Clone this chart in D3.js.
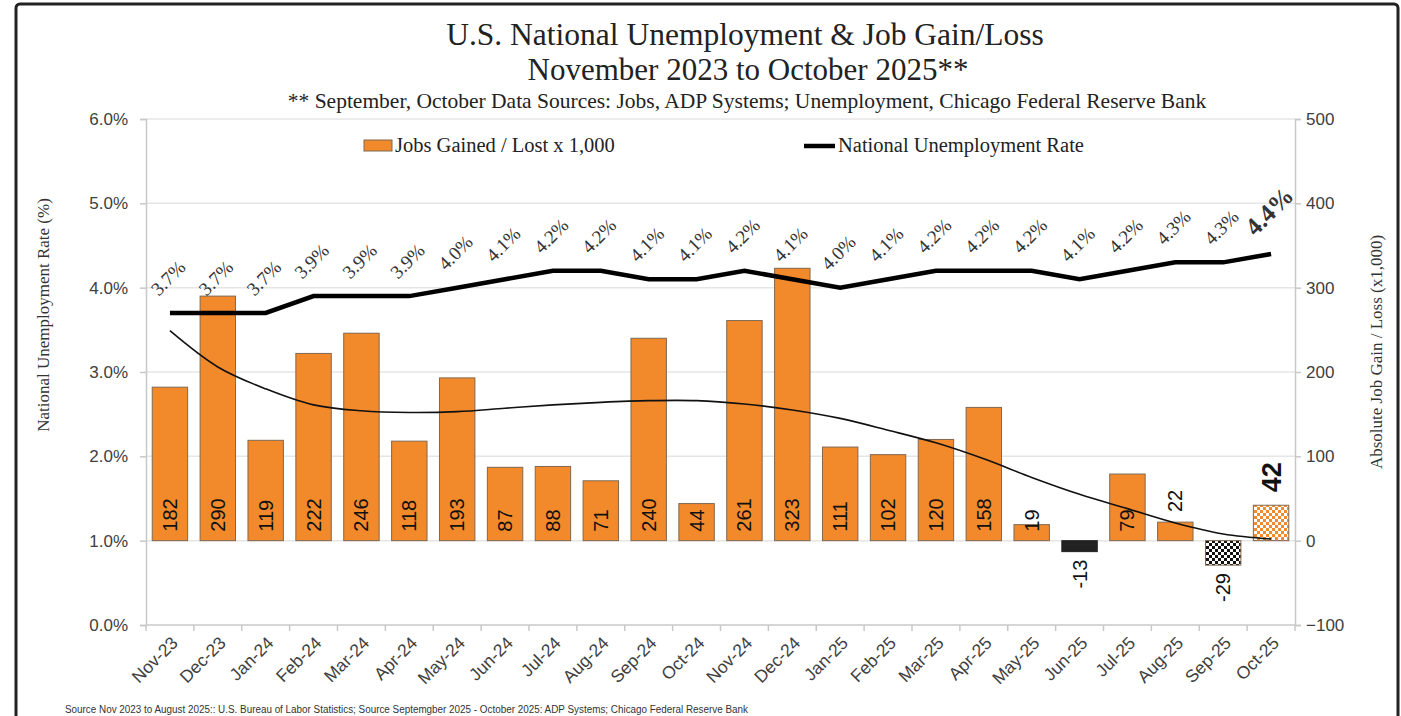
<!DOCTYPE html>
<html>
<head>
<meta charset="utf-8">
<title>U.S. National Unemployment & Job Gain/Loss</title>
<script src="https://cdn.jsdelivr.net/npm/d3@7"></script>
<style>
  body { margin: 0; background: #fff; }
  svg { display: block; }
  .serif { font-family: "Liberation Serif", "DejaVu Serif", serif; }
  .sans { font-family: "Liberation Sans", Arial, sans-serif; }
</style>
</head>
<body>
<div id="chart"></div>
<script>
// months on the x axis
var months = ["Nov-23","Dec-23","Jan-24","Feb-24","Mar-24","Apr-24","May-24","Jun-24","Jul-24","Aug-24","Sep-24","Oct-24",
              "Nov-24","Dec-24","Jan-25","Feb-25","Mar-25","Apr-25","May-25","Jun-25","Jul-25","Aug-25","Sep-25","Oct-25"];
// jobs gained / lost (thousands)
var jobs = [182,290,119,222,246,118,193,87,88,71,240,44,261,323,111,102,120,158,19,-13,79,22,-29,42];
// national unemployment rate (%)
var rate = [3.7,3.7,3.7,3.9,3.9,3.9,4.0,4.1,4.2,4.2,4.1,4.1,4.2,4.1,4.0,4.1,4.2,4.2,4.2,4.1,4.2,4.3,4.3,4.4];
// trendline of job numbers (thousands)
var trend = [249,206,180,161,154,152,153,157,161,164,166,166,162,155,145,131,116,97,75,55,38,21,8,2];
// axis ticks
var rateTicks = [0,1,2,3,4,5,6];
var jobTicks = [-100,0,100,200,300,400,500];

var W = 1401, H = 716;
var pLeft = 146, pRight = 1295, pTop = 119, pBottom = 625;

var svg = d3.select("#chart").append("svg").attr("width", W).attr("height", H);

// patterns for the last months
var defs = svg.append("defs");
var pb = defs.append("pattern").attr("id","checkBlack").attr("patternUnits","userSpaceOnUse")
  .attr("width",6).attr("height",6);
pb.append("rect").attr("width",6).attr("height",6).attr("fill","#fff");
pb.append("rect").attr("width",3).attr("height",3).attr("fill","#111");
pb.append("rect").attr("x",3).attr("y",3).attr("width",3).attr("height",3).attr("fill","#111");
var po = defs.append("pattern").attr("id","checkOrange").attr("patternUnits","userSpaceOnUse")
  .attr("width",6).attr("height",6);
po.append("rect").attr("width",6).attr("height",6).attr("fill","#fff");
po.append("rect").attr("width",3).attr("height",3).attr("fill","#F2892B");
po.append("rect").attr("x",3).attr("y",3).attr("width",3).attr("height",3).attr("fill","#F2892B");

// frame
svg.append("rect").attr("x",16).attr("y",4).attr("width",1382).attr("height",740)
  .attr("rx",4).attr("fill","#fff").attr("stroke","#222").attr("stroke-width",3);

// scales
var x = d3.scaleBand().domain(months).range([pLeft, pRight]).paddingInner(0.26).paddingOuter(0.13);
var yL = d3.scaleLinear().domain([0, 6]).range([pBottom, pTop]);
var yR = d3.scaleLinear().domain([-100, 500]).range([pBottom, pTop]);
var step = x.step();
function cx(m) { return x(m) + x.bandwidth() / 2; }

// gridlines
svg.append("g").selectAll("line").data(rateTicks.slice(1)).enter().append("line")
  .attr("x1", pLeft).attr("x2", pRight)
  .attr("y1", function(d){ return yL(d); }).attr("y2", function(d){ return yL(d); })
  .attr("stroke", "#e6e6e6").attr("stroke-width", 1.5);

// left axis
var axL = svg.append("g").attr("transform","translate(" + pLeft + ",0)")
  .call(d3.axisLeft(yL).tickValues(rateTicks).tickSize(6).tickPadding(12)
    .tickFormat(function(d){ return d3.format(".1f")(d) + "%"; }));
// right axis
var axR = svg.append("g").attr("transform","translate(" + pRight + ",0)")
  .call(d3.axisRight(yR).tickValues(jobTicks).tickSize(6).tickPadding(5));
[axL, axR].forEach(function(a){
  a.select(".domain").attr("stroke","#c8c8c8").attr("stroke-width",1.5);
  a.selectAll(".tick line").attr("stroke","#c8c8c8").attr("stroke-width",1.5);
  a.selectAll(".tick text").attr("class","sans").attr("font-size",17).attr("fill","#404040");
});

// bottom axis with ticks between categories
var axB = svg.append("g").attr("transform","translate(0," + pBottom + ")");
axB.append("line").attr("x1", pLeft).attr("x2", pRight).attr("stroke","#c8c8c8").attr("stroke-width",1.5);
axB.selectAll("line.tk").data(d3.range(months.length + 1)).enter().append("line").attr("class","tk")
  .attr("x1", function(i){ return pLeft + i * step; }).attr("x2", function(i){ return pLeft + i * step; })
  .attr("y1", 0).attr("y2", 6).attr("stroke","#c8c8c8").attr("stroke-width",1.5);
axB.selectAll("text").data(months).enter().append("text")
  .attr("class","sans").attr("font-size",17.5).attr("fill","#404040")
  .attr("text-anchor","end")
  .attr("transform", function(m){ return "translate(" + (cx(m) + 9) + ",19) rotate(-45)"; })
  .text(function(m){ return m; });

// bars
var special = { "Jun-25": "#222", "Sep-25": "url(#checkBlack)", "Oct-25": "url(#checkOrange)" };
var barData = months.map(function(m, i){ return { m: m, v: jobs[i] }; });
svg.append("g").selectAll("rect").data(barData).enter().append("rect")
  .attr("x", function(d){ return x(d.m); })
  .attr("width", x.bandwidth())
  .attr("y", function(d){ return yR(Math.max(0, d.v)); })
  .attr("height", function(d){ return Math.abs(yR(d.v) - yR(0)); })
  .attr("fill", function(d){ return special[d.m] || "#F2892B"; })
  .attr("stroke", function(d){ return d.m === "Jun-25" ? "#222" : "#806850"; })
  .attr("stroke-width", 1);

// bar labels
var above = { "Aug-25": 10, "Oct-25": 13 };
svg.append("g").selectAll("text").data(barData).enter().append("text")
  .attr("class","sans")
  .attr("font-size", function(d){ return d.m === "Oct-25" ? 27 : 20; })
  .attr("font-weight", function(d){ return d.m === "Oct-25" ? "bold" : "normal"; })
  .attr("fill","#111")
  .attr("dy","0.35em")
  .attr("text-anchor", function(d){ return d.v < 0 ? "end" : "start"; })
  .attr("transform", function(d){
    var yy;
    if (d.v < 0) yy = yR(d.v) + 8;
    else if (above[d.m] !== undefined) yy = yR(d.v) - above[d.m];
    else yy = yR(0) - 9;
    return "translate(" + cx(d.m) + "," + yy + ") rotate(-90)";
  })
  .text(function(d){ return d.v; });

// trendline
var trendLine = d3.line().curve(d3.curveCatmullRom)
  .x(function(d, i){ return cx(months[i]); })
  .y(function(d){ return yR(d); });
svg.append("path").attr("d", trendLine(trend)).attr("fill","none")
  .attr("stroke","#111").attr("stroke-width",1.6);

// unemployment line
var rateLine = d3.line()
  .x(function(d, i){ return cx(months[i]); })
  .y(function(d){ return yL(d); });
svg.append("path").attr("d", rateLine(rate)).attr("fill","none")
  .attr("stroke","#000").attr("stroke-width",4.5).attr("stroke-linejoin","miter");

// rate labels
svg.append("g").selectAll("text").data(rate).enter().append("text")
  .attr("class","serif")
  .attr("font-size", function(d, i){ return i === rate.length - 1 ? 25 : 19; })
  .attr("font-weight", function(d, i){ return i === rate.length - 1 ? "bold" : "normal"; })
  .attr("fill","#333")
  .attr("text-anchor","middle").attr("dy","0.35em")
  .attr("transform", function(d, i){
    var off = i === rate.length - 1 ? 43 : 35;
    return "translate(" + (cx(months[i]) - 2) + "," + (yL(d) - off) + ") rotate(-45)";
  })
  .text(function(d){ return d3.format(".1f")(d) + "%"; });

// titles
svg.append("text").attr("class","serif").attr("x",745).attr("y",45).attr("text-anchor","middle")
  .attr("font-size",31.5).attr("fill","#222").text("U.S. National Unemployment & Job Gain/Loss");
svg.append("text").attr("class","serif").attr("x",748).attr("y",80).attr("text-anchor","middle")
  .attr("font-size",31).attr("fill","#222").text("November 2023 to October 2025**");
svg.append("text").attr("class","serif").attr("x",747).attr("y",108).attr("text-anchor","middle")
  .attr("font-size",21.5).attr("fill","#222")
  .text("** September, October Data Sources: Jobs, ADP Systems; Unemployment, Chicago Federal Reserve Bank");

// legend
svg.append("rect").attr("x",364).attr("y",140).attr("width",28).attr("height",11)
  .attr("fill","#F2892B").attr("stroke","#806850");
svg.append("text").attr("class","serif").attr("x",395).attr("y",152).attr("font-size",20.5)
  .attr("fill","#222").text("Jobs Gained / Lost x 1,000");
svg.append("line").attr("x1",804).attr("x2",835).attr("y1",146).attr("y2",146)
  .attr("stroke","#000").attr("stroke-width",4.5);
svg.append("text").attr("class","serif").attr("x",838).attr("y",152).attr("font-size",20.5)
  .attr("fill","#222").text("National Unemployment Rate");

// axis titles
svg.append("text").attr("class","serif").attr("font-size",17).attr("fill","#333")
  .attr("text-anchor","middle")
  .attr("transform","translate(49,315) rotate(-90)").text("National Unemployment Rate (%)");
svg.append("text").attr("class","serif").attr("font-size",17).attr("fill","#333")
  .attr("text-anchor","middle")
  .attr("transform","translate(1382,352) rotate(-90)").text("Absolute Job Gain / Loss (x1,000)");

// source
svg.append("text").attr("class","sans").attr("x",65).attr("y",713).attr("font-size",10)
  .attr("fill","#333").attr("textLength",683).attr("lengthAdjust","spacingAndGlyphs")
  .text("Source Nov 2023 to August 2025::  U.S. Bureau of Labor Statistics; Source Septemgber 2025 - October 2025: ADP Systems; Chicago Federal Reserve Bank");
</script>
</body>
</html>
